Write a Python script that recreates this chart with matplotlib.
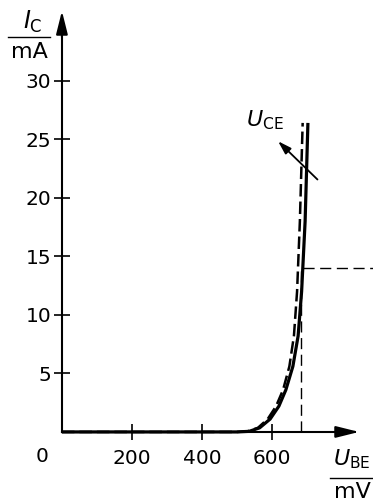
import matplotlib
matplotlib.use("Agg")
import matplotlib.pyplot as plt
from matplotlib import font_manager

# transistor input characteristic I_C = f(U_BE)
u_be_solid = [0, 500, 535, 565, 595, 620, 640, 660, 675, 685, 695, 703]
i_c_solid = [0, 0, 0.05, 0.35, 1.1, 2.2, 3.6, 5.6, 8.2, 12.0, 18.0, 26.4]
u_be_dash = [0, 500, 530, 560, 588, 612, 632, 650, 663, 672, 680, 688]
i_c_dash = [0, 0, 0.05, 0.35, 1.1, 2.2, 3.6, 5.6, 8.2, 12.0, 18.0, 26.4]

x_ticks = [200, 400, 600]
y_ticks = [5, 10, 15, 20, 25, 30]
u_knee = 683
i_work = 14

names = {f.name for f in font_manager.fontManager.ttflist}
if 'Liberation Sans Narrow' in names:
    fam, fs = 'Liberation Sans Narrow', 18
else:
    fam, fs = 'DejaVu Sans', 14.5
plt.rcParams['font.family'] = [fam, 'DejaVu Sans']
plt.rcParams['mathtext.fontset'] = 'dejavusans'

fig = plt.figure(figsize=(3.73, 5.01), dpi=100)
ax = fig.add_axes([0, 0, 1, 1])
ax.set_xlim(-177, 889)
ax.set_ylim(-5.9, 36.9)

for s in ['top', 'right']:
    ax.spines[s].set_visible(False)
ax.spines['left'].set_position(('data', 0))
ax.spines['bottom'].set_position(('data', 0))
ax.spines['left'].set_bounds(0, 34)
ax.spines['bottom'].set_bounds(0, 830)
ax.spines['left'].set_linewidth(1.5)
ax.spines['bottom'].set_linewidth(1.5)

ax.set_xticks(x_ticks)
ax.set_xticklabels([str(v) for v in x_ticks])
ax.set_yticks(y_ticks)
ax.set_yticklabels([str(v) for v in y_ticks])
ax.tick_params(axis='x', direction='inout', length=11, width=1.2, pad=7, labelsize=fs)
ax.tick_params(axis='y', direction='inout', length=11, width=1.2, pad=2, labelsize=fs)

# arrow heads
ax.annotate('', xy=(0, 36.2), xytext=(0, 33.5),
            arrowprops=dict(arrowstyle='-|>,head_length=1.4,head_width=0.35', color='black', lw=1.5))
ax.annotate('', xy=(857, 0), xytext=(820, 0),
            arrowprops=dict(arrowstyle='-|>,head_length=1.4,head_width=0.35', color='black', lw=1.5))

# curves
ax.plot(u_be_solid, i_c_solid, color='black', lw=2.3, solid_capstyle='butt')
ax.plot(u_be_dash, i_c_dash, color='black', lw=1.8, dashes=(5, 2))

# construction lines
ax.plot([u_knee, u_knee], [0, i_work], color='black', lw=1.0, dashes=(8, 4))
ax.plot([u_knee + 5, 889], [i_work, i_work], color='black', lw=1.0, dashes=(8, 4))

# U_CE arrow
ax.annotate('', xy=(612, 25.0), xytext=(736, 21.4),
            arrowprops=dict(arrowstyle='-|>,head_length=0.8,head_width=0.25', color='black', lw=1.3))
ax.text(580, 26.6, r'$U_{\rm CE}$', fontsize=16, ha='center', va='center')

# origin label
ax.text(-57, -2.1, '0', fontsize=fs, ha='center', va='center')

# axis labels as fractions
ax.text(-83, 35.0, r'$I_{\rm C}$', fontsize=17, ha='center', va='center')
ax.plot([-154, -34], [33.7, 33.7], color='black', lw=1.0)
ax.text(-94, 32.5, 'mA', fontsize=16, ha='center', va='center')

ax.text(829, -2.3, r'$U_{\rm BE}$', fontsize=16, ha='center', va='center')
ax.plot([766, 886], [-3.9, -3.9], color='black', lw=1.0)
ax.text(829, -5.1, 'mV', fontsize=16, ha='center', va='center')

fig.savefig('out.png', dpi=100)
